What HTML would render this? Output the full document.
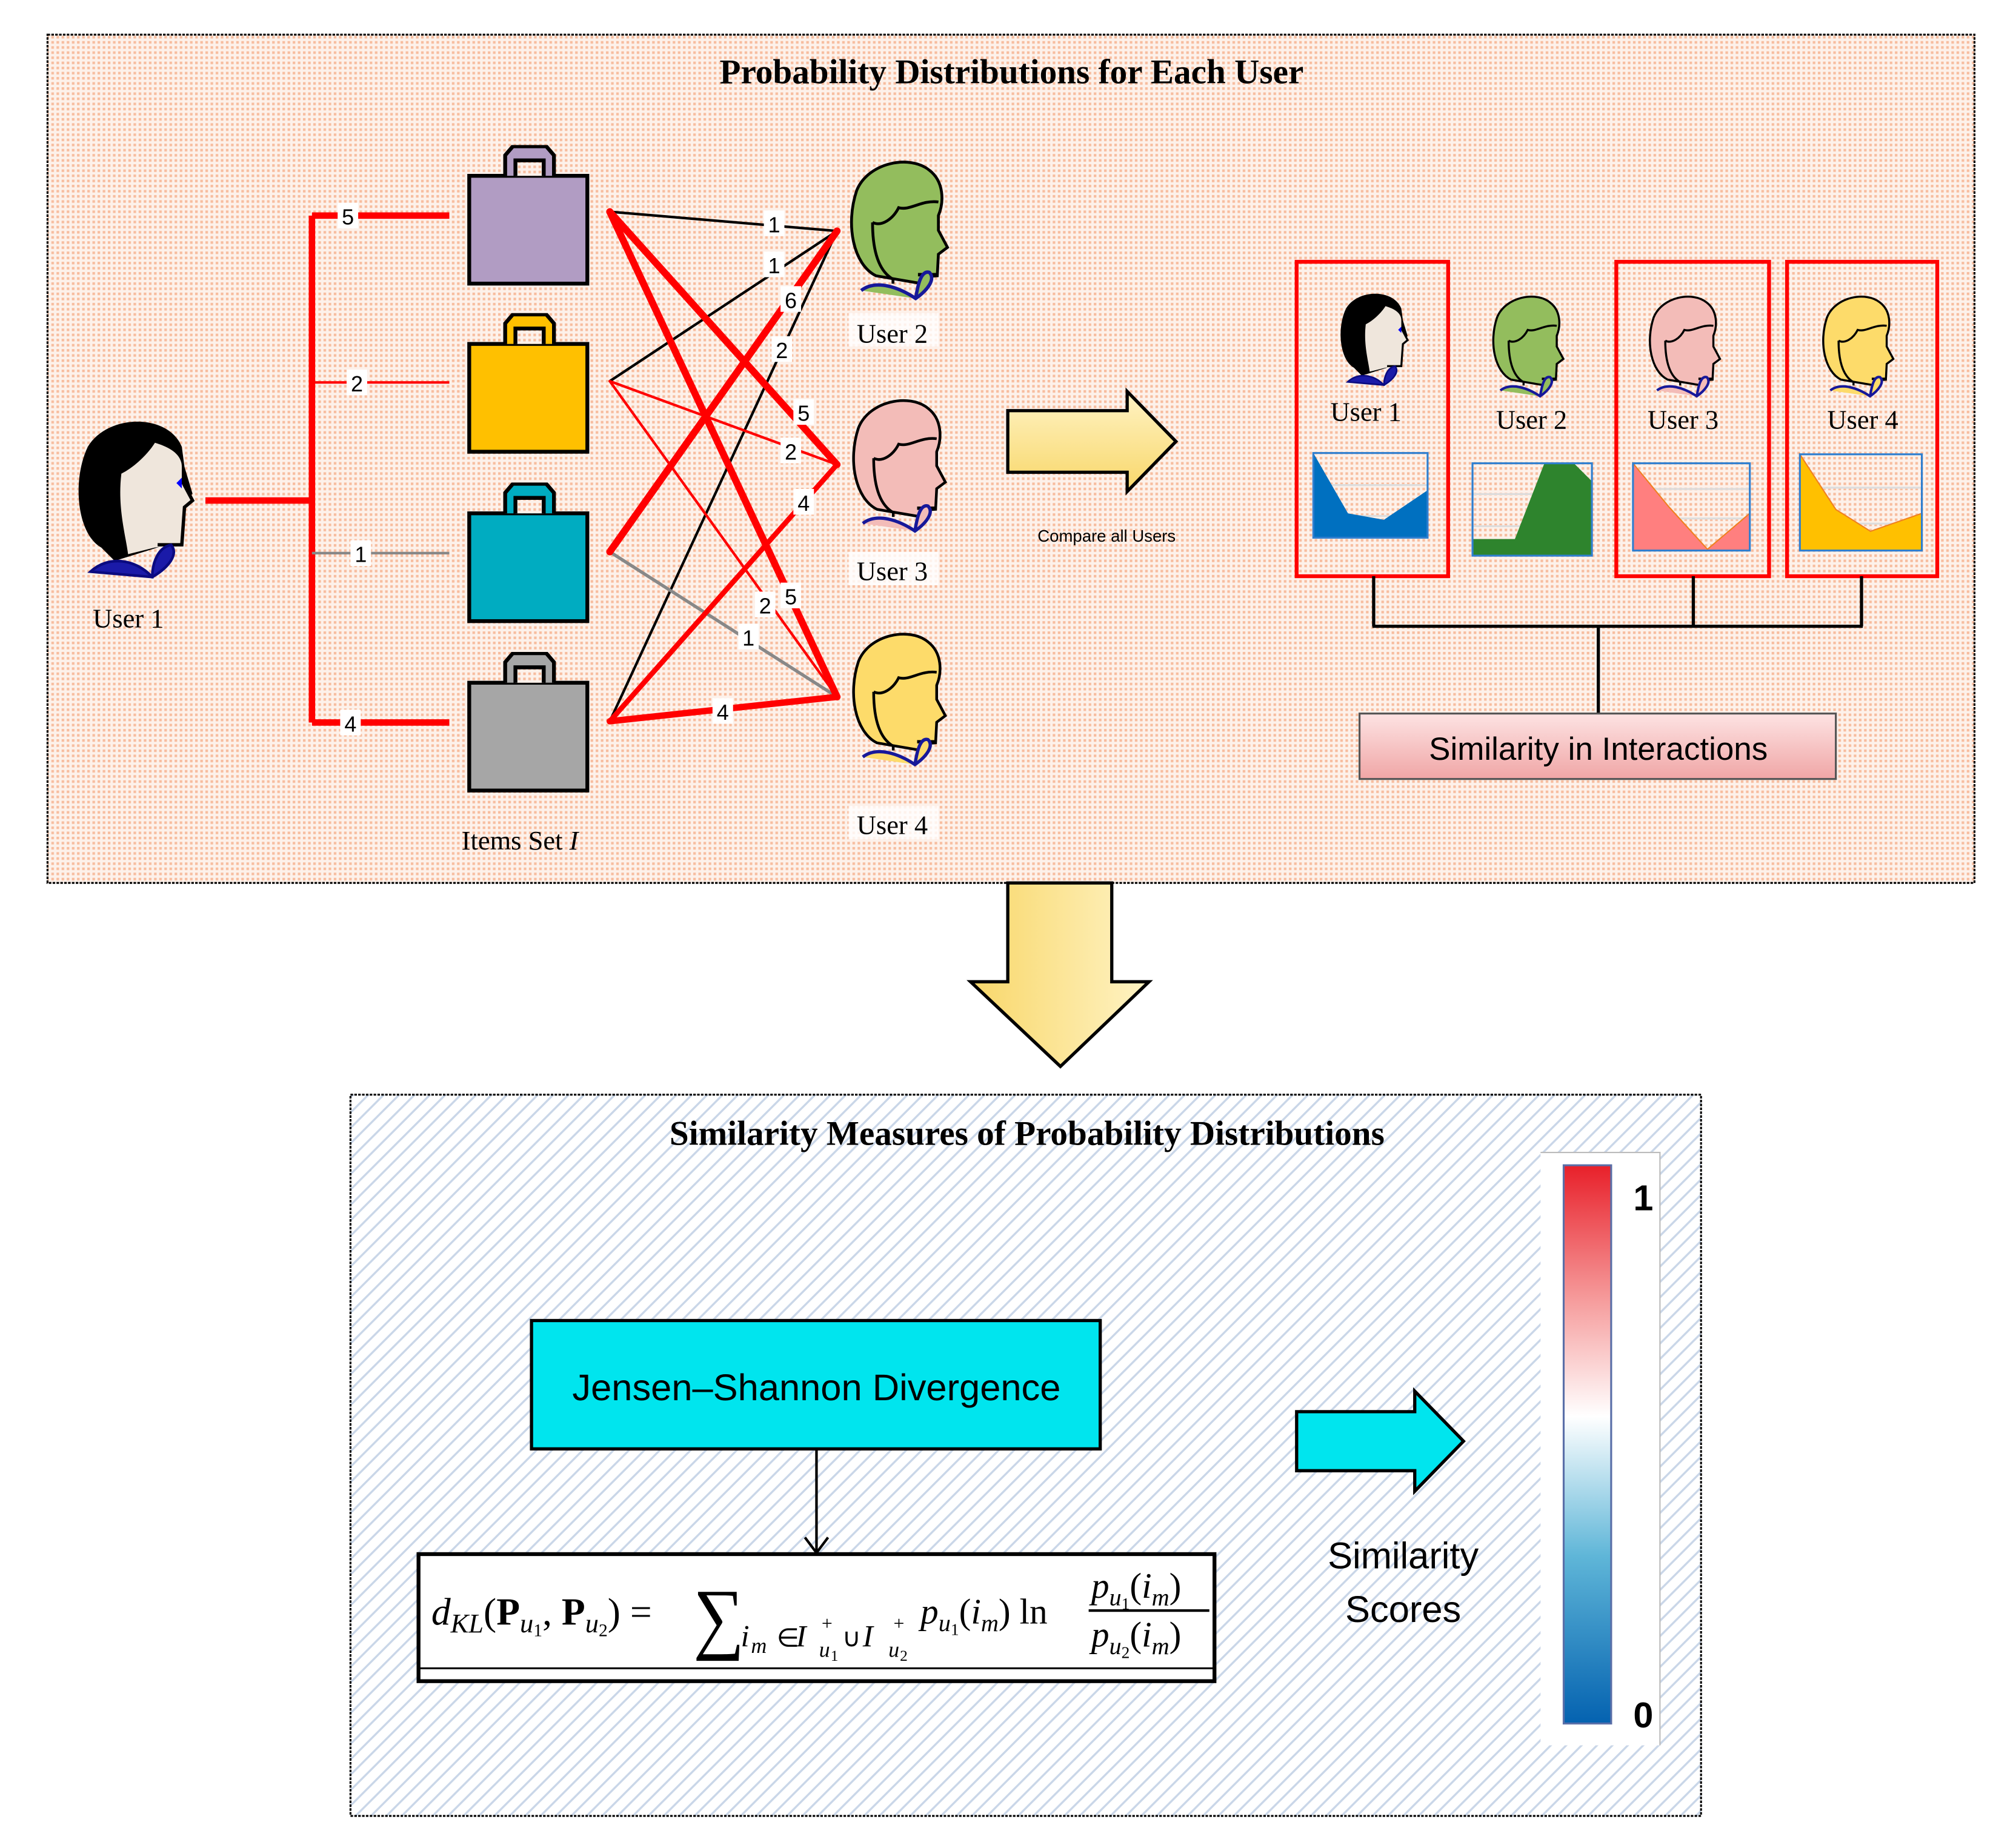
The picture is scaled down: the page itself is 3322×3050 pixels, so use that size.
<!DOCTYPE html>
<html><head><meta charset="utf-8"><style>
html,body{margin:0;padding:0;background:#fff;}
svg{display:block;}
.r{font-family:"Liberation Serif",serif;}
.s{font-family:"Liberation Sans","DejaVu Sans",sans-serif;}
.d{font-family:"DejaVu Sans",sans-serif;}
</style></head><body>
<svg width="3322" height="3050" viewBox="0 0 1568 1440" preserveAspectRatio="none" xmlns="http://www.w3.org/2000/svg" class="r">
<defs>
<pattern id="dots" width="4" height="4" patternUnits="userSpaceOnUse">
<rect width="4" height="4" fill="#fdf1ea"/><rect x="0" y="0" width="2" height="2" fill="#f7bd9f"/>
</pattern>
<pattern id="diag" width="12" height="12" patternUnits="userSpaceOnUse">
<rect width="12" height="12" fill="#fff"/><path d="M-3,15 L15,-3 M-3,3 L3,-3 M9,15 L15,9" stroke="#c9d6e8" stroke-width="1.6"/>
</pattern>
<linearGradient id="yel" x1="0" y1="0" x2="0" y2="1"><stop offset="0" stop-color="#fff3c4"/><stop offset="1" stop-color="#f8d76a"/></linearGradient>
<linearGradient id="yelh" x1="0" y1="0" x2="1" y2="0"><stop offset="0" stop-color="#f8d76a"/><stop offset="1" stop-color="#fff3c4"/></linearGradient>
<linearGradient id="pink" x1="0" y1="0" x2="0" y2="1"><stop offset="0" stop-color="#fde3e3"/><stop offset="1" stop-color="#f0a6a6"/></linearGradient>
<linearGradient id="cbar" x1="0" y1="0" x2="0" y2="1"><stop offset="0" stop-color="#e8202a"/><stop offset="0.25" stop-color="#f6a0a0"/><stop offset="0.45" stop-color="#ffffff"/><stop offset="0.7" stop-color="#5fb6d8"/><stop offset="1" stop-color="#0462b0"/></linearGradient>
<symbol id="head" viewBox="0 0 90 130">
<path d="M25,105 C5,95 -2,60 8,30 C18,5 55,-2 72,12 C85,22 85,40 80,52 L80,65 L88,80 L80,86 L79,105 L65,106 L66,112 Z" fill="var(--hc)" stroke="#000" stroke-width="2.5"/>
<path d="M22,58 C30,62 40,55 45,45 C55,48 65,38 80,40" fill="none" stroke="#000" stroke-width="2.5"/>
<path d="M22,58 C22,80 26,100 40,108 L40,112" fill="none" stroke="#000" stroke-width="2.5"/>
<path d="M62,104 L80,104" stroke="#000" stroke-width="3"/>
<path d="M12,118 C25,108 45,115 60,125 C70,118 78,108 72,102 C65,100 62,112 60,125" fill="var(--hc)" stroke="#16189a" stroke-width="3"/>
</symbol>
<symbol id="head1" viewBox="0 0 90 130">
<path d="M20,100 C2,90 -2,50 10,25 C25,0 70,0 80,25 L82,40 L88,60 L82,66 L80,95 L62,100 L30,110 Z" fill="#000"/>
<path d="M35,45 C45,40 55,30 60,22 C70,25 80,30 80,40 L80,50 L88,65 L82,70 L80,98 L60,100 L40,105 C38,90 32,70 35,45 Z" fill="#efe6dc"/>
<path d="M80,50 L88,65 L82,70 L80,98 L62,98" fill="none" stroke="#000" stroke-width="2.5"/>
<path d="M76,52 L80,48 L80,56 Z" fill="#00f"/>
<path d="M12,118 C25,106 45,108 58,122 C70,115 78,105 72,98 C62,100 58,112 58,122 Z" fill="#1a1aa8" stroke="#0a0a80" stroke-width="2"/>
</symbol>
<symbol id="bag" viewBox="0 0 96 110">
<rect x="2" y="24" width="92" height="84" fill="var(--bc)" stroke="#000" stroke-width="3"/>
<path d="M30,24 L30,8 L36,1 L62,1 L68,8 L68,24 M38,24 L38,12 L60,12 L60,24" fill="var(--bc)" stroke="#000" stroke-width="3"/>
<rect x="38" y="12" width="22" height="12" fill="url(#dots)"/>
<path d="M38,24 L38,12 L60,12 L60,24" fill="none" stroke="#000" stroke-width="3"/>
</symbol>
</defs>

<rect x="37" y="27" width="1501" height="661" fill="url(#dots)" stroke="#000" stroke-width="1.5" stroke-dasharray="2,1"/>
<text x="788" y="65" font-size="27" font-weight="bold" text-anchor="middle">Probability Distributions for Each User</text>

<use href="#head1" x="55" y="322" width="100" height="136"/>
<text x="100" y="489" font-size="21" text-anchor="middle">User 1</text>

<g fill="none">
<path d="M160,390 L243,390 M243,168 L243,563 M243,168 L350,168 M243,563 L350,563" stroke="#f00" stroke-width="5"/>
<path d="M243,298 L350,298" stroke="#f00" stroke-width="2"/>
<path d="M243,431 L350,431" stroke="#888" stroke-width="2"/>
</g>
<g font-size="17" text-anchor="middle" class="s">
<rect x="263" y="158" width="16" height="20" fill="#fff"/><text x="271" y="175">5</text>
<rect x="270" y="288" width="16" height="20" fill="#fff"/><text x="278" y="305">2</text>
<rect x="273" y="421" width="16" height="20" fill="#fff"/><text x="281" y="438">1</text>
<rect x="265" y="553" width="16" height="20" fill="#fff"/><text x="273" y="570">4</text>
</g>

<use href="#bag" x="363" y="113" width="97" height="110" style="--bc:#b19cc3"/>
<use href="#bag" x="363" y="244" width="97" height="110" style="--bc:#ffc000"/>
<use href="#bag" x="363" y="376" width="97" height="110" style="--bc:#00acc1"/>
<use href="#bag" x="363" y="508" width="97" height="110" style="--bc:#a6a6a6"/>
<text x="405" y="662" font-size="21" text-anchor="middle">Items Set <tspan font-style="italic">I</tspan></text>

<g fill="none" stroke-linecap="round">
<path d="M475,165 L652,180" stroke="#000" stroke-width="2"/>
<path d="M475,297 L652,180" stroke="#000" stroke-width="2"/>
<path d="M475,562 L652,180" stroke="#000" stroke-width="2"/>
<path d="M475,430 L652,543" stroke="#888" stroke-width="2.5"/>
<path d="M475,297 L652,362" stroke="#f00" stroke-width="2"/>
<path d="M475,297 L652,543" stroke="#f00" stroke-width="2"/>
<path d="M475,165 L652,362" stroke="#f00" stroke-width="5.5"/>
<path d="M475,165 L652,543" stroke="#f00" stroke-width="5.5"/>
<path d="M475,430 L652,180" stroke="#f00" stroke-width="5.5"/>
<path d="M475,562 L652,362" stroke="#f00" stroke-width="4"/>
<path d="M475,562 L652,543" stroke="#f00" stroke-width="5"/>
</g>
<g font-size="17" text-anchor="middle" class="s">
<rect x="595" y="164" width="16" height="20" fill="#fff"/><text x="603" y="181">1</text>
<rect x="595" y="196" width="16" height="20" fill="#fff"/><text x="603" y="213">1</text>
<rect x="608" y="223" width="16" height="20" fill="#fff"/><text x="616" y="240">6</text>
<rect x="601" y="262" width="16" height="20" fill="#fff"/><text x="609" y="279">2</text>
<rect x="618" y="311" width="16" height="20" fill="#fff"/><text x="626" y="328">5</text>
<rect x="608" y="341" width="16" height="20" fill="#fff"/><text x="616" y="358">2</text>
<rect x="618" y="381" width="16" height="20" fill="#fff"/><text x="626" y="398">4</text>
<rect x="608" y="454" width="16" height="20" fill="#fff"/><text x="616" y="471">5</text>
<rect x="588" y="461" width="16" height="20" fill="#fff"/><text x="596" y="478">2</text>
<rect x="575" y="486" width="16" height="20" fill="#fff"/><text x="583" y="503">1</text>
<rect x="555" y="544" width="16" height="20" fill="#fff"/><text x="563" y="561">4</text>
</g>

<use href="#head" x="655" y="122" width="90" height="115" style="--hc:#93bd5d"/>
<rect x="661" y="244" width="70" height="26" fill="#fff" opacity="0.8"/>
<text x="695" y="267" font-size="21" text-anchor="middle">User 2</text>
<use href="#head" x="655" y="308" width="90" height="110" style="--hc:#f3bcb8"/>
<rect x="661" y="430" width="70" height="26" fill="#fff" opacity="0.8"/>
<text x="695" y="452" font-size="21" text-anchor="middle">User 3</text>
<use href="#head" x="655" y="490" width="90" height="110" style="--hc:#fddb6a"/>
<rect x="661" y="628" width="70" height="26" fill="#fff" opacity="0.8"/>
<text x="695" y="650" font-size="21" text-anchor="middle">User 4</text>

<path d="M785,320 L878,320 L878,305 L916,344 L878,383 L878,368 L785,368 Z" fill="url(#yel)" stroke="#000" stroke-width="2.5"/>
<text class="s" x="862" y="422" font-size="13" text-anchor="middle">Compare all Users</text>

<g fill="none" stroke="#f00" stroke-width="3">
<rect x="1010" y="204" width="118" height="245"/>
<rect x="1259" y="204" width="119" height="245"/>
<rect x="1392" y="204" width="117" height="245"/>
</g>
<use href="#head1" x="1035" y="225" width="70" height="80"/>
<use href="#head" x="1155" y="228" width="70" height="84" style="--hc:#93bd5d"/>
<use href="#head" x="1277" y="228" width="70" height="84" style="--hc:#f3bcb8"/>
<use href="#head" x="1412" y="228" width="70" height="84" style="--hc:#fddb6a"/>
<g font-size="21" text-anchor="middle">
<text x="1064" y="328">User 1</text><text x="1193" y="334">User 2</text>
<text x="1311" y="334">User 3</text><text x="1451" y="334">User 4</text>
</g>
<g stroke="#ddd" stroke-width="1.5">
<path d="M1023,378 H1112 M1023,402 H1112 M1147,385 H1240 M1147,410 H1240 M1272,381 H1363 M1272,404 H1363 M1402,380 H1497 M1402,408 H1497"/>
</g>
<path d="M1023,353 L1050,400 L1078,405 L1112,382 L1112,419 L1023,419 Z" fill="#0070c0"/>
<rect x="1023" y="353" width="89" height="66" fill="none" stroke="#2f7fd0" stroke-width="1.5"/>
<path d="M1147,420 L1180,420 L1203,361 L1226,361 L1240,375 L1240,433 L1147,433 Z" fill="#2e842d"/>
<rect x="1147" y="361" width="93" height="72" fill="none" stroke="#2f7fd0" stroke-width="1.5"/>
<path d="M1272,361 L1300,395 L1330,428 L1363,400 L1363,429 L1272,429 Z" fill="#ff7f7f" stroke="#f08020" stroke-width="1"/>
<rect x="1272" y="361" width="91" height="68" fill="none" stroke="#2f7fd0" stroke-width="1.5"/>
<path d="M1402,354 L1430,397 L1457,414 L1497,400 L1497,429 L1402,429 Z" fill="#ffc000" stroke="#f08020" stroke-width="1"/>
<rect x="1402" y="354" width="95" height="75" fill="none" stroke="#2f7fd0" stroke-width="1.5"/>

<path d="M1070,449 V488 M1319,449 V488 M1450,449 V488 M1069,488 H1451 M1245,488 V556" stroke="#000" stroke-width="2.5" fill="none"/>
<rect x="1059" y="556" width="371" height="51" fill="url(#pink)" stroke="#555" stroke-width="1.5"/>
<text class="s" x="1245" y="592" font-size="25" text-anchor="middle">Similarity in Interactions</text>

<path d="M785,688 L866,688 L866,765 L895,765 L826,831 L756,765 L785,765 Z" fill="url(#yelh)" stroke="#000" stroke-width="2.5"/>

<rect x="273" y="853" width="1052" height="562" fill="url(#diag)" stroke="#000" stroke-width="1.5" stroke-dasharray="2,1"/>
<text x="800" y="892" font-size="27" font-weight="bold" text-anchor="middle">Similarity Measures of Probability Distributions</text>

<rect x="414" y="1029" width="443" height="100" fill="#00e5ee" stroke="#000" stroke-width="2.5"/>
<text class="s" x="636" y="1091" font-size="29" text-anchor="middle">Jensen–Shannon Divergence</text>
<path d="M636,1129 L636,1209 M627,1198 L636,1210 L645,1198" stroke="#000" stroke-width="2" fill="none"/>

<rect x="326" y="1211" width="620" height="99" fill="#fff" stroke="#000" stroke-width="3"/>
<path d="M326,1300 H946" stroke="#000" stroke-width="1.5"/>
<g font-size="30">
<text x="336" y="1266"><tspan font-style="italic">d</tspan><tspan font-style="italic" font-size="21" dy="6">KL</tspan><tspan dy="-6">(</tspan><tspan font-weight="bold">P</tspan><tspan font-style="italic" font-size="21" dy="6">u</tspan><tspan font-size="14" dy="3">1</tspan><tspan dy="-9">, </tspan><tspan font-weight="bold">P</tspan><tspan font-style="italic" font-size="21" dy="6">u</tspan><tspan font-size="14" dy="3">2</tspan><tspan dy="-9">) =</tspan></text>
<text x="540" y="1281" font-size="62" class="r" transform="translate(540 1281) scale(0.9 1) translate(-540 -1281)">∑</text>
<text x="577" y="1283" font-size="24" font-style="italic">i</text>
<text x="585" y="1288" font-size="17" font-style="italic">m</text>
<text x="605" y="1283" font-size="20">∈</text>
<text x="620" y="1283" font-size="24" font-style="italic">I</text>
<text x="640" y="1270" font-size="15">+</text>
<text x="638" y="1291" font-size="17" font-style="italic">u</text>
<text x="647" y="1294" font-size="12">1</text>
<text x="656" y="1283" font-size="20">∪</text>
<text x="672" y="1283" font-size="24" font-style="italic">I</text>
<text x="696" y="1270" font-size="15">+</text>
<text x="692" y="1291" font-size="17" font-style="italic">u</text>
<text x="701" y="1294" font-size="12">2</text>
<text x="717" y="1265" font-size="28"><tspan font-style="italic">p</tspan><tspan font-style="italic" font-size="19" dy="6">u</tspan><tspan font-size="13" dy="3">1</tspan><tspan dy="-9">(</tspan><tspan font-style="italic">i</tspan><tspan font-style="italic" font-size="19" dy="6">m</tspan><tspan dy="-6">) ln</tspan></text>
<text x="850" y="1245" font-size="28"><tspan font-style="italic">p</tspan><tspan font-style="italic" font-size="19" dy="6">u</tspan><tspan font-size="13" dy="3">1</tspan><tspan dy="-9">(</tspan><tspan font-style="italic">i</tspan><tspan font-style="italic" font-size="19" dy="6">m</tspan><tspan dy="-6">)</tspan></text>
<path d="M848,1255 H942" stroke="#000" stroke-width="2"/>
<text x="850" y="1283" font-size="28"><tspan font-style="italic">p</tspan><tspan font-style="italic" font-size="19" dy="6">u</tspan><tspan font-size="13" dy="3">2</tspan><tspan dy="-9">(</tspan><tspan font-style="italic">i</tspan><tspan font-style="italic" font-size="19" dy="6">m</tspan><tspan dy="-6">)</tspan></text>
</g>

<path d="M1010,1100 L1102,1100 L1102,1084 L1140,1123 L1102,1162 L1102,1146 L1010,1146 Z" fill="#00e5ee" stroke="#000" stroke-width="2.5"/>
<text class="s" x="1093" y="1222" font-size="29" text-anchor="middle">Similarity</text>
<text class="s" x="1093" y="1264" font-size="29" text-anchor="middle">Scores</text>

<rect x="1200" y="898" width="93" height="462" fill="#fff"/>
<path d="M1200,898 H1293 V1360" fill="none" stroke="#bbb" stroke-width="1"/>
<rect x="1218" y="908" width="37" height="435" fill="url(#cbar)" stroke="#5a6fa8" stroke-width="1.5"/>
<text class="s" x="1280" y="943" font-size="28" font-weight="bold" text-anchor="middle">1</text>
<text class="s" x="1280" y="1346" font-size="28" font-weight="bold" text-anchor="middle">0</text>
</svg>
</body></html>
